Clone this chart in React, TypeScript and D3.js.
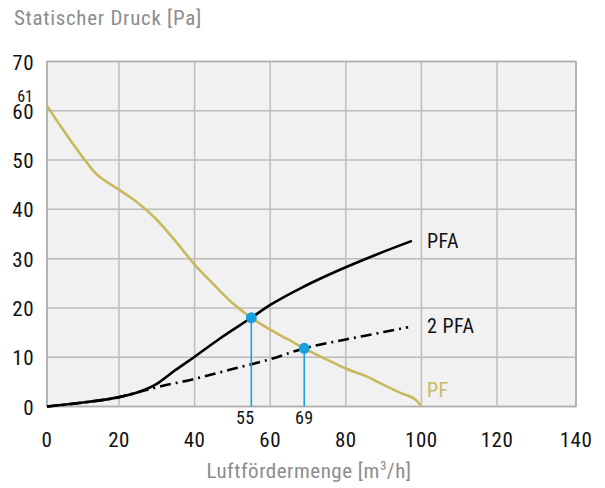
import React from "react";
import * as d3 from "d3";

// Statischer Druck [Pa] vs Luftfördermenge [m³/h]
const xTicks = [0, 20, 40, 60, 80, 100, 120, 140];
const yTicks = [0, 10, 20, 30, 40, 50, 60, 70];

const pfFlow = [0, 5, 10.2, 13, 20, 24.7, 29.6, 35, 40, 45, 50, 55, 60, 65, 69, 75, 80, 86.6, 88.4, 94.6, 98.6, 100];
const pfPressure = [61, 55.6, 50.3, 47.7, 44, 41.5, 38.2, 33.5, 28.8, 24.8, 21, 18, 15.6, 13.5, 11.8, 9.5, 7.7, 5.7, 5, 2.7, 1.3, 0];

const pfaFlow = [0, 10, 20, 25, 30, 34.4, 40, 46.7, 55, 60, 68.8, 78.3, 88, 97.5];
const pfaPressure = [0, 0.8, 1.9, 2.9, 4.6, 7.1, 10.1, 13.8, 18, 20.6, 24.3, 27.7, 30.8, 33.6];

const pfa2Flow = [0, 10, 20, 25, 30, 40, 50, 60, 69, 80, 90, 96.5];
const pfa2Pressure = [0, 0.8, 1.9, 2.9, 3.9, 5.6, 7.6, 9.6, 11.8, 13.6, 15.1, 16.1];

const opFlow = [55, 69];
const opPressure = [18, 11.8];
const opLabelDx = [-6, 0];

const W = 605;
const H = 488;
const FONT = "'Roboto Condensed', 'Liberation Sans Narrow', 'DejaVu Sans Condensed', Roboto, sans-serif";

export default function App() {
  // the grid of the original is not quite even, so the scale follows it
  const x = d3.scaleLinear().domain([0, 20, 120, 140]).range([47, 119, 497, 576]);
  const y = d3.scaleLinear().domain([0, 70]).range([406.5, 61.5]);

  const toPts = (xs: number[], ys: number[]) => xs.map((v, i) => [v, ys[i]] as [number, number]);
  const line = d3
    .line<[number, number]>()
    .x((d) => x(d[0]))
    .y((d) => y(d[1]))
    .curve(d3.curveMonotoneX);

  const x0 = x(0), x1 = x(140), y0 = y(0), y1 = y(70);

  return (
    <svg width={W} height={H} style={{ position: "absolute", left: 0, top: 0, background: "#fff" }} fontFamily={FONT}>
      <text x={14} y={25} fontSize={21} letterSpacing={0.7} fill="#8c8c8c">Statischer Druck [Pa]</text>

      <rect x={x0} y={y1} width={x1 - x0} height={y0 - y1} fill="#f1f1f1" />
      {xTicks.map((t) => (
        <line key={"gx" + t} x1={x(t)} x2={x(t)} y1={y1} y2={y0} stroke="#bcbcbc" strokeWidth={1.5} />
      ))}
      {yTicks.map((t) => (
        <line key={"gy" + t} x1={x0} x2={x1} y1={y(t)} y2={y(t)} stroke="#bcbcbc" strokeWidth={1.5} />
      ))}
      <rect x={x0} y={y1} width={x1 - x0} height={y0 - y1} fill="none" stroke="#adadad" strokeWidth={1.5} />

      {yTicks.map((t) => (
        <text key={"ly" + t} x={34} y={y(t) + 8} textAnchor="end" fontSize={21} letterSpacing={0.5} fill="#111">{t}</text>
      ))}
      <text x={33} y={101.5} textAnchor="end" fontSize={16} fill="#111">61</text>

      {xTicks.map((t) => (
        <text key={"lx" + t} x={x(t)} y={447} textAnchor="middle" fontSize={21} letterSpacing={0.5} fill="#111">{t}</text>
      ))}
      <text x={309} y={478} textAnchor="middle" fontSize={21} letterSpacing={0.5} fill="#8c8c8c">
        Luftfördermenge [m<tspan dy={-8} fontSize={13}>3</tspan><tspan dy={8}>/h]</tspan>
      </text>

      <path d={line(toPts(pfFlow, pfPressure)) || ""} fill="none" stroke="#c8ba5c" strokeWidth={2.6} />
      <path d={line(toPts(pfa2Flow, pfa2Pressure)) || ""} fill="none" stroke="#000" strokeWidth={2.6} strokeDasharray="11,5,2,5" />
      <path d={line(toPts(pfaFlow, pfaPressure)) || ""} fill="none" stroke="#000" strokeWidth={2.6} />

      {opFlow.map((f, i) => (
        <g key={"op" + f}>
          <line x1={x(f)} x2={x(f)} y1={y(opPressure[i])} y2={y0} stroke="#1aa0e0" strokeWidth={1.6} />
          <circle cx={x(f)} cy={y(opPressure[i])} r={5.5} fill="#1aa0e0" />
          <text x={x(f) + opLabelDx[i]} y={424} textAnchor="middle" fontSize={18} letterSpacing={0.3} fill="#111">{f}</text>
        </g>
      ))}

      <text x={427} y={248} fontSize={20} letterSpacing={0.5} fill="#111">PFA</text>
      <text x={427} y={333} fontSize={20} letterSpacing={0.5} fill="#111">2 PFA</text>
      <text x={427} y={397} fontSize={20} letterSpacing={0.5} fill="#c8ba5c">PF</text>
    </svg>
  );
}
